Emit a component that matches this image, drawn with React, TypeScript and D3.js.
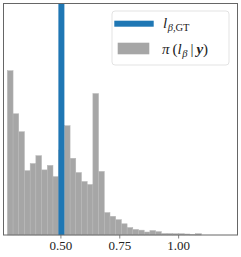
import React from "react";
import * as d3 from "d3";

// histogram of the posterior samples (density), bins of equal width
const binStart = 0.2725;
const binWidth = 0.02422;
const densities = [
  4.39, 3.24, 2.76, 1.72, 1.91, 2.12, 1.74, 1.86, 1.56, 2.27, 2.92, 2.05,
  1.67, 1.43, 1.35, 3.78, 1.7, 0.6, 0.5, 0.41, 0.3, 0.2, 0.15, 0.13, 0.08,
  0.12, 0.09, 0.04, 0.04, 0.035, 0.035, 0.027, 0.008, 0.035,
];
const groundTruth = 0.502;
const xTicks = [0.5, 0.75, 1.0];

const W = 241;
const H = 257;
const margin = { top: 3, right: 3.5, bottom: 22, left: 3 };

const App: React.FC = () => {
  const x = d3
    .scaleLinear()
    .domain([0.254, 1.25])
    .range([margin.left, W - margin.right]);
  const y = d3
    .scaleLinear()
    .domain([0, 6.2])
    .range([H - margin.bottom, margin.top]);

  const bins = densities.map((d, i) => ({
    x0: binStart + i * binWidth,
    x1: binStart + (i + 1) * binWidth,
    v: d,
  }));

  const font = "'Liberation Serif', 'DejaVu Serif', serif";
  const y0 = y(0);

  return (
    <svg
      width={W}
      height={H}
      style={{ position: "absolute", left: 0, top: 0, background: "#fff" }}
    >
      {/* bars */}
      {bins.map((b, i) => (
        <rect
          key={i}
          x={x(b.x0)}
          y={y(b.v)}
          width={x(b.x1) - x(b.x0)}
          height={y0 - y(b.v)}
          fill="#a6a6a6"
          stroke="#b8b8b8"
          strokeWidth={0.5}
        />
      ))}

      {/* ground truth */}
      <line
        x1={x(groundTruth)}
        x2={x(groundTruth)}
        y1={margin.top}
        y2={y0}
        stroke="#1f77b4"
        strokeWidth={6}
      />

      {/* frame */}
      <rect
        x={margin.left + 0.5}
        y={margin.top + 0.5}
        width={W - margin.right - margin.left - 0.5}
        height={y0 - margin.top - 0.5}
        fill="none"
        stroke="#666"
        strokeWidth={1}
      />

      {/* x ticks */}
      {xTicks.map((t) => (
        <g key={t} transform={`translate(${x(t)},${y0})`}>
          <line y1={0} y2={3.5} stroke="#666" strokeWidth={0.8} />
          <text
            y={15}
            textAnchor="middle"
            fontFamily={font}
            fontSize={13}
            fill="#222"
          >
            {d3.format(".2f")(t)}
          </text>
        </g>
      ))}

      {/* legend */}
      <g>
        <rect
          x={112}
          y={11}
          width={117}
          height={54}
          rx={3}
          fill="#fff"
          fillOpacity={0.8}
          stroke="#dcdcdc"
          strokeWidth={0.8}
        />
        <rect x={114.3} y={20.7} width={39.4} height={6} fill="#1f77b4" />
        <rect x={117.7} y={42.7} width={31.6} height={11.6} fill="#a6a6a6" />
        <text x={163} y={28} fontFamily={font} fontSize={15} fill="#222">
          <tspan fontStyle="italic">l</tspan>
          <tspan fontSize={10.5} dy={3} dx={0.5} fontStyle="italic">
            β
          </tspan>
          <tspan fontSize={10.5}>,GT</tspan>
        </text>
        <text x={162} y={54} fontFamily={font} fontSize={15} fill="#222">
          <tspan fontStyle="italic">π</tspan>
          <tspan dx={3}>(</tspan>
          <tspan fontStyle="italic">l</tspan>
          <tspan fontSize={10.5} dy={3} dx={0.5} fontStyle="italic">
            β
          </tspan>
          <tspan dy={-3} dx={3}>|</tspan>
          <tspan dx={3} fontStyle="italic" fontWeight="bold">
            y
          </tspan>
          <tspan>)</tspan>
        </text>
      </g>
    </svg>
  );
};

export default App;
